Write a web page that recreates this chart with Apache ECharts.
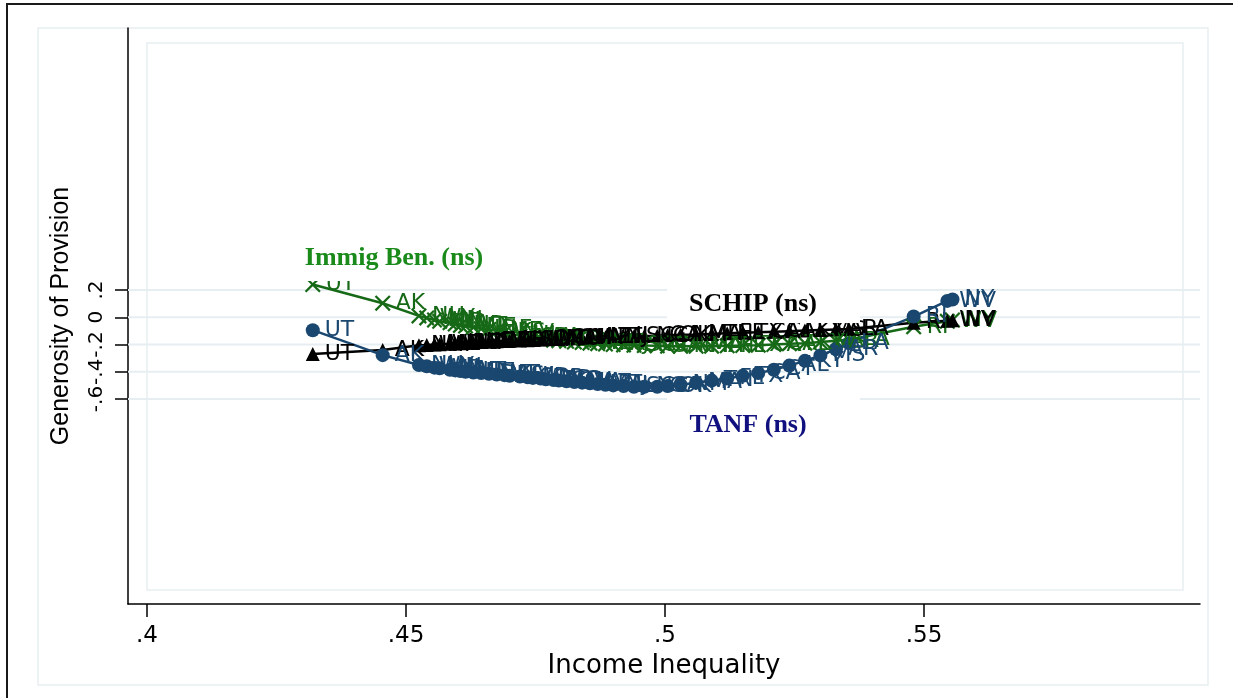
<!DOCTYPE html>
<html>
<head>
<meta charset="utf-8">
<script src="https://cdn.jsdelivr.net/npm/echarts@6/dist/echarts.min.js"></script>
<style>
html,body{margin:0;padding:0;background:#fff;overflow:hidden;}
#chart{width:1233px;height:698px;}
</style>
</head>
<body>
<div id="chart"></div>
<script>
// ---- data ----
const states = ['UT','AK','NH','WY','MN','WI','ID','IA','ND','VT','NE','IN','DE','ME','KS','NV','HI','SD','WA','OR','MD','MO','CO','OH','MI','VA','AZ','MT','PA','NJ','IL','SC','NC','GA','OK','NM','MA','TN','FL','TX','CA','CT','AL','KY','MS','AR','LA','RI','WV','NY'];
const inequality = [0.4320,0.4455,0.4525,0.4540,0.4555,0.4565,0.4585,0.4595,0.4605,0.4615,0.4630,0.4645,0.4660,0.4675,0.4690,0.4700,0.4720,0.4735,0.4745,0.4760,0.4770,0.4785,0.4795,0.4810,0.4825,0.4840,0.4855,0.4870,0.4885,0.4900,0.4920,0.4940,0.4960,0.4985,0.5005,0.5030,0.5060,0.5090,0.5120,0.5150,0.5180,0.5210,0.5240,0.5270,0.5300,0.5330,0.5355,0.5480,0.5545,0.5555];
const tanf = [-0.095,-0.278,-0.35,-0.36,-0.37,-0.375,-0.385,-0.39,-0.395,-0.40,-0.405,-0.41,-0.415,-0.42,-0.425,-0.43,-0.435,-0.44,-0.445,-0.45,-0.455,-0.46,-0.465,-0.47,-0.475,-0.48,-0.485,-0.49,-0.495,-0.50,-0.505,-0.51,-0.51,-0.51,-0.505,-0.495,-0.48,-0.465,-0.45,-0.43,-0.41,-0.385,-0.355,-0.32,-0.28,-0.235,-0.19,0.005,0.12,0.13];
const immig = [0.24,0.103,0.01,-0.005,-0.02,-0.03,-0.04,-0.05,-0.06,-0.065,-0.075,-0.085,-0.09,-0.10,-0.11,-0.12,-0.135,-0.145,-0.15,-0.157,-0.162,-0.168,-0.172,-0.177,-0.182,-0.186,-0.19,-0.194,-0.197,-0.20,-0.203,-0.206,-0.208,-0.21,-0.212,-0.213,-0.213,-0.212,-0.21,-0.208,-0.205,-0.20,-0.195,-0.19,-0.182,-0.173,-0.165,-0.07,-0.03,-0.02];
const schip = [-0.27,-0.24,-0.205,-0.203,-0.20,-0.198,-0.195,-0.193,-0.19,-0.188,-0.185,-0.182,-0.18,-0.177,-0.174,-0.172,-0.17,-0.168,-0.166,-0.164,-0.162,-0.16,-0.158,-0.156,-0.154,-0.152,-0.15,-0.148,-0.146,-0.144,-0.142,-0.14,-0.138,-0.135,-0.132,-0.129,-0.126,-0.122,-0.118,-0.114,-0.11,-0.106,-0.102,-0.098,-0.094,-0.09,-0.087,-0.04,-0.025,-0.022];
const xTicks = [0.4,0.45,0.5,0.55];
const xTickLabels = ['.4','.45','.5','.55'];
const yTicks = [-0.6,-0.4,-0.2,0,0.2];
const yTickLabels = ['-.6','-.4','-.2','0','.2'];
const xRange = [0.39633,0.60328];
const yRange = [-2.1046,2.123];

// ---- styling ----
const C_TANF = '#1a476f', C_IMMIG = '#166916', C_SCHIP = '#000000';
const X_PATH = 'path://M2,0 L10,8 L18,0 L20,2 L12,10 L20,18 L18,20 L10,12 L2,20 L0,18 L8,10 L0,2 Z';

function lab(ticks, labels){
  return v => { const i = ticks.findIndex(t => Math.abs(t - v) < 1e-9); return i >= 0 ? labels[i] : ''; };
}
function mkData(ys){
  return states.map((s,i)=>({name:s, value:[inequality[i], ys[i]]}));
}
function dataSeries(name, ys, color, symbol, size){
  return {
    name, type:'line', z:3, data: mkData(ys), symbol, symbolSize:size,
    showAllSymbol:true,
    lineStyle:{color, width:2.5}, itemStyle:{color},
    label:{show:true, position:'right', distance:5, formatter:'{b}', color, fontFamily:'DejaVu Sans', fontSize:22},
    labelLayout:{hideOverlap:false},
    animation:false
  };
}
const gridSeries = yTicks.map(v => ({
  type:'line', z:1, silent:true, symbol:'none', animation:false,
  lineStyle:{color:'#e7eef2', width:2},
  data:[[xRange[0], v],[xRange[1], v]]
}));

const chart = echarts.init(document.getElementById('chart'), null, {renderer:'canvas'});
chart.setOption({
  backgroundColor:'#ffffff',
  animation:false,
  grid:{left:128, right:33, top:28, bottom:94, containLabel:false, outerBoundsMode:'none'},
  xAxis:{
    type:'value', min:xRange[0], max:xRange[1],
    axisLine:{show:true, onZero:false, lineStyle:{color:'#000', width:1.5}},
    axisTick:{show:true, length:13, customValues:xTicks, lineStyle:{color:'#000', width:1.5}},
    axisLabel:{customValues:xTicks, formatter:lab(xTicks, xTickLabels), margin:21, hideOverlap:false, color:'#000', fontFamily:'DejaVu Sans', fontSize:23},
    splitLine:{show:false},
    name:'Income Inequality', nameLocation:'middle', nameGap:42,
    nameTextStyle:{color:'#000', fontFamily:'DejaVu Sans', fontSize:26}
  },
  yAxis:{
    type:'value', min:yRange[0], max:yRange[1],
    axisLine:{show:true, onZero:false, lineStyle:{color:'#000', width:1.5}},
    axisTick:{show:true, length:13, customValues:yTicks, lineStyle:{color:'#000', width:1.5}},
    axisLabel:{customValues:yTicks, formatter:lab(yTicks, yTickLabels), rotate:90, margin:21, hideOverlap:false, color:'#000', fontFamily:'DejaVu Sans', fontSize:20},
    splitLine:{show:false},
    name:'Generosity of Provision', nameLocation:'middle', nameGap:54, nameRotate:90,
    nameTextStyle:{color:'#000', fontFamily:'Liberation Sans', fontSize:25}
  },
  series:[
    ...gridSeries,
    dataSeries('Immig Ben.', immig, C_IMMIG, X_PATH, 16),
    dataSeries('SCHIP', schip, C_SCHIP, 'triangle', 14),
    dataSeries('TANF', tanf, C_TANF, 'circle', 14)
  ],
  graphic:[
    {type:'rect', z:0, silent:true, shape:{x:7, y:4, width:1240, height:710}, style:{fill:'none', stroke:'#1a1a1a', lineWidth:2}},
    {type:'rect', z:0, silent:true, shape:{x:38, y:28, width:1170, height:657}, style:{fill:'none', stroke:'#e8eff1', lineWidth:1.5}},
    {type:'rect', z:0, silent:true, shape:{x:147, y:43, width:1036, height:547}, style:{fill:'none', stroke:'#e8eff1', lineWidth:1.5}},
    {type:'rect', z:100, silent:true, shape:{x:290, y:236, width:210, height:45}, style:{fill:'#fff'}},
    {type:'text', z:101, silent:true, style:{text:'Immig Ben. (ns)', x:394, y:258, align:'center', verticalAlign:'middle', fill:'#1a8a1a', font:'bold 26px "Liberation Serif"'}},
    {type:'rect', z:100, silent:true, shape:{x:667, y:283, width:193, height:40}, style:{fill:'#fff'}},
    {type:'text', z:101, silent:true, style:{text:'SCHIP (ns)', x:753, y:304, align:'center', verticalAlign:'middle', fill:'#000', font:'bold 26px "Liberation Serif"'}},
    {type:'rect', z:100, silent:true, shape:{x:667, y:396, width:193, height:58}, style:{fill:'#fff'}},
    {type:'text', z:101, silent:true, style:{text:'TANF (ns)', x:748, y:425, align:'center', verticalAlign:'middle', fill:'#10107e', font:'bold 26px "Liberation Serif"'}}
  ]
});
</script>
</body>
</html>
